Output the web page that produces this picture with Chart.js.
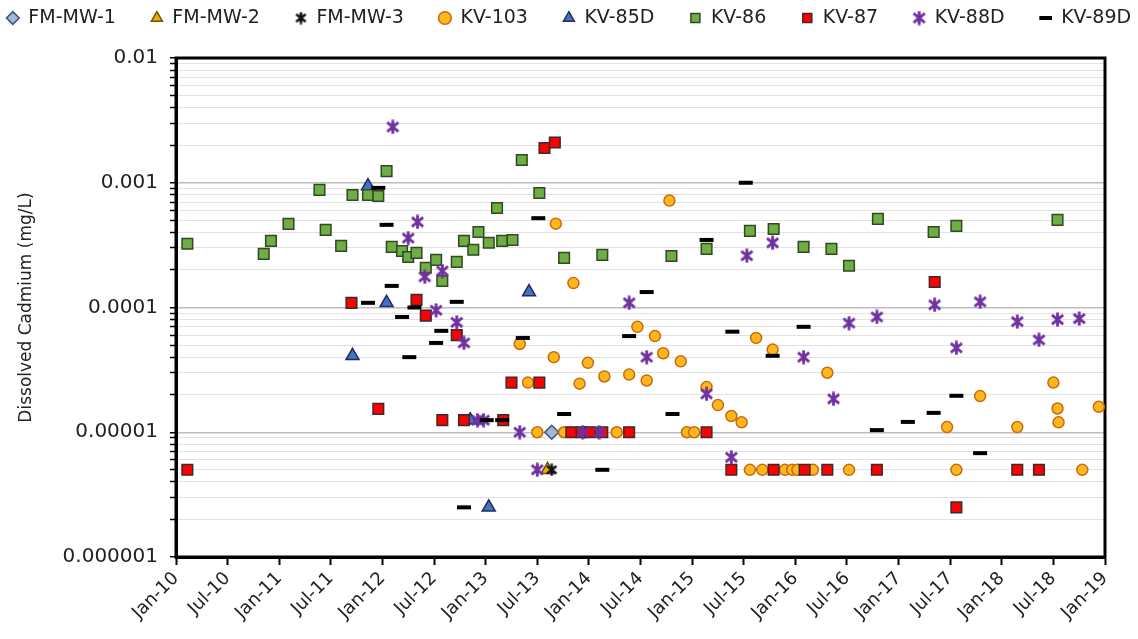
<!DOCTYPE html>
<html>
<head>
<meta charset="utf-8">
<script src="https://cdn.jsdelivr.net/npm/chart.js@4.4.0/dist/chart.umd.min.js"></script>
<style>
  html, body { margin: 0; padding: 0; background: #fff; }
</style>
</head>
<body>
<canvas id="chart" width="1138" height="639"></canvas>
<script>
// sample dates as decimal years, dissolved cadmium in mg/L
const fmMw1 = [[2013.64, 0.00001]];
const fmMw2 = [[2013.60, 0.000005]];
const fmMw3 = [[2013.64, 0.000005]];

const kv103 = [
  [2013.33, 0.000051], [2013.41, 0.000025], [2013.50, 0.00001], [2013.66, 0.00004],
  [2013.68, 0.00047], [2013.76, 0.00001], [2013.85, 0.000157], [2013.91, 0.0000245],
  [2013.99, 0.000036], [2014.15, 0.000028], [2014.27, 0.00001], [2014.39, 0.000029],
  [2014.47, 0.00007], [2014.56, 0.000026], [2014.64, 0.000059], [2014.72, 0.000043],
  [2014.78, 0.00072], [2014.89, 0.000037], [2014.95, 0.00001], [2015.02, 0.00001],
  [2015.14, 0.000023], [2015.25, 0.0000165], [2015.38, 0.0000135], [2015.48, 0.000012],
  [2015.56, 0.000005], [2015.62, 0.000057], [2015.68, 0.000005], [2015.78, 0.000046],
  [2015.90, 0.000005], [2015.97, 0.000005], [2016.02, 0.000005], [2016.17, 0.000005],
  [2016.31, 0.00003], [2016.52, 0.000005], [2017.47, 0.000011], [2017.56, 0.000005],
  [2017.79, 0.0000195], [2018.15, 0.000011], [2018.50, 0.000025], [2018.54, 0.0000155],
  [2018.55, 0.000012], [2018.78, 0.000005], [2018.94, 0.000016]
];

const kv85d = [
  [2011.71, 0.000041], [2011.86, 0.00094], [2012.04, 0.000109],
  [2012.85, 0.0000125], [2013.03, 0.0000025], [2013.42, 0.000133]
];

const kv86 = [
  [2010.11, 0.000324], [2010.85, 0.000269], [2010.92, 0.000342], [2011.09, 0.000468],
  [2011.39, 0.000876], [2011.45, 0.000419], [2011.60, 0.000312], [2011.71, 0.000798],
  [2011.86, 0.000798], [2011.96, 0.000784], [2012.04, 0.00124], [2012.09, 0.000306],
  [2012.19, 0.000284], [2012.25, 0.000254], [2012.33, 0.000274], [2012.42, 0.000208],
  [2012.52, 0.000241], [2012.58, 0.000163], [2012.72, 0.000232], [2012.79, 0.000342],
  [2012.88, 0.00029], [2012.93, 0.000403], [2013.03, 0.00033], [2013.11, 0.000628],
  [2013.16, 0.000342], [2013.26, 0.000348], [2013.35, 0.00152], [2013.52, 0.000828],
  [2013.76, 0.00025], [2014.13, 0.000264], [2014.80, 0.000259], [2015.14, 0.000295],
  [2015.56, 0.000411], [2015.79, 0.000426], [2016.08, 0.000306], [2016.35, 0.000295],
  [2016.52, 0.000216], [2016.80, 0.000513], [2017.34, 0.000403], [2017.56, 0.000451],
  [2018.54, 0.000504]
];

const kv87 = [
  [2010.11, 0.000005], [2011.70, 0.000109], [2011.96, 0.0000154], [2012.33, 0.000115],
  [2012.42, 0.000086], [2012.72, 0.00006], [2012.58, 0.0000125], [2012.79, 0.0000125],
  [2013.17, 0.0000125], [2013.25, 0.000025], [2013.52, 0.000025], [2013.57, 0.0019],
  [2013.67, 0.0021], [2013.83, 0.00001], [2013.93, 0.00001], [2014.01, 0.00001],
  [2014.13, 0.00001], [2014.39, 0.00001], [2015.14, 0.00001], [2015.38, 0.000005],
  [2015.79, 0.000005], [2016.09, 0.000005], [2016.31, 0.000005], [2016.79, 0.000005],
  [2017.35, 0.00016], [2017.56, 0.0000025], [2018.15, 0.000005], [2018.36, 0.000005]
];

const kv88d = [
  [2012.10, 0.0028], [2012.25, 0.00036], [2012.34, 0.000485], [2012.41, 0.000176],
  [2012.58, 0.000196], [2012.52, 0.000095], [2012.72, 0.000076], [2012.79, 0.000052],
  [2012.92, 0.0000125], [2012.98, 0.0000125], [2013.33, 0.00001], [2013.50, 0.000005],
  [2013.94, 0.00001], [2014.10, 0.00001], [2014.39, 0.000109], [2014.56, 0.00004],
  [2015.14, 0.0000203], [2015.38, 0.0000063], [2015.53, 0.00026], [2015.78, 0.00033],
  [2016.08, 0.00004], [2016.37, 0.0000185], [2016.52, 0.000075], [2016.79, 0.000084],
  [2017.35, 0.000105], [2017.56, 0.0000475], [2017.79, 0.000111], [2018.15, 0.000077],
  [2018.36, 0.000055], [2018.54, 0.00008], [2018.75, 0.0000815]
];

const kv89d = [
  [2011.86, 0.000109], [2011.96, 0.00091], [2012.04, 0.00046], [2012.09, 0.000149],
  [2012.19, 0.000084], [2012.26, 0.00004], [2012.31, 0.0001], [2012.52, 0.000052],
  [2012.57, 0.000065], [2012.72, 0.000111], [2012.79, 0.0000025], [2013.01, 0.0000125],
  [2013.16, 0.0000125], [2013.36, 0.000057], [2013.51, 0.00052], [2013.76, 0.000014],
  [2014.13, 0.000005], [2014.39, 0.000059], [2014.56, 0.000133], [2014.81, 0.000014],
  [2015.14, 0.000348], [2015.39, 0.000064], [2015.52, 0.001], [2015.78, 0.000041],
  [2016.08, 0.00007], [2016.79, 0.0000104], [2017.09, 0.0000121], [2017.34, 0.0000143],
  [2017.56, 0.0000196], [2017.79, 0.0000068]
];

const xTickLabels = [
  'Jan-10', 'Jul-10', 'Jan-11', 'Jul-11', 'Jan-12', 'Jul-12', 'Jan-13', 'Jul-13',
  'Jan-14', 'Jul-14', 'Jan-15', 'Jul-15', 'Jan-16', 'Jul-16', 'Jan-17', 'Jul-17',
  'Jan-18', 'Jul-18', 'Jan-19'
];
const yDecades = [0.000001, 0.00001, 0.0001, 0.001, 0.01];
const yTickLabels = ['0.000001', '0.00001', '0.0001', '0.001', '0.01'];

const FONT = 'DejaVu Sans';
const LEGEND_PAD = 35;

// excel style asterisk marker (x with a vertical bar)
function asterisk(color, size, lw) {
  const c = document.createElement('canvas');
  c.width = size;
  c.height = size;
  const g = c.getContext('2d');
  g.strokeStyle = color;
  g.lineWidth = lw;
  const m = lw / 2 + 0.5;
  g.beginPath();
  g.moveTo(m, m + 1); g.lineTo(size - m, size - m - 1);
  g.moveTo(size - m, m + 1); g.lineTo(m, size - m - 1);
  g.moveTo(size / 2, 0.5); g.lineTo(size / 2, size - 0.5);
  g.stroke();
  return c;
}

const pts = arr => arr.map(([x, y]) => ({ x, y }));

const datasets = [
  { label: 'FM-MW-1', data: pts(fmMw1), pointStyle: 'rectRot', pointRadius: 7,
    backgroundColor: '#9DB8DC', borderColor: '#44546A', borderWidth: 1.5 },
  { label: 'FM-MW-2', data: pts(fmMw2), pointStyle: 'triangle', pointRadius: 7.5,
    backgroundColor: '#E8B400', borderColor: '#6B5300', borderWidth: 1.5 },
  { label: 'FM-MW-3', data: pts(fmMw3), pointStyle: asterisk('#111', 13, 2.5), pointRadius: 7,
    backgroundColor: '#111', borderColor: '#111', borderWidth: 0 },
  { label: 'KV-103', data: pts(kv103), pointStyle: 'circle', pointRadius: 5.5,
    backgroundColor: '#FFB71B', borderColor: '#C86A10', borderWidth: 1.5 },
  { label: 'KV-85D', data: pts(kv85d), pointStyle: 'triangle', pointRadius: 7.5,
    backgroundColor: '#4472C4', borderColor: '#1F2F5C', borderWidth: 1.5 },
  { label: 'KV-86', data: pts(kv86), pointStyle: 'rect', pointRadius: 7.5,
    backgroundColor: '#70AD47', borderColor: '#2E4A1E', borderWidth: 1.5 },
  { label: 'KV-87', data: pts(kv87), pointStyle: 'rect', pointRadius: 7.5,
    backgroundColor: '#FF0000', borderColor: '#3A2A2A', borderWidth: 1.5 },
  { label: 'KV-88D', data: pts(kv88d), pointStyle: asterisk('#7030A0', 15, 2.8), pointRadius: 7,
    backgroundColor: '#7030A0', borderColor: '#7030A0', borderWidth: 0 },
  { label: 'KV-89D', data: pts(kv89d), pointStyle: 'line', pointRadius: 7,
    backgroundColor: '#000', borderColor: '#000', borderWidth: 4 }
];
// later series are painted on top, like the spreadsheet
datasets.forEach((d, i) => { d.order = -i; d.pointHoverRadius = d.pointRadius; });

const frame = {
  id: 'frame',
  beforeInit(chart) {
    // keep the legend on one wide row and reserve 58px above the plot
    const fit = chart.legend.fit;
    chart.legend.fit = function () {
      const mw = this.maxWidth;
      this.maxWidth = mw + 400;
      fit.call(this);
      this.maxWidth = mw;
      this.width = mw;
      this.height = 58;
    };
  },
  afterLayout(chart) {
    const lg = chart.legend;
    lg.left -= 200;
    lg.right += 200;
    lg.top = 18 - LEGEND_PAD - 9.5;
  },
  beforeDatasetsDraw(chart) {
    const { ctx, chartArea: a } = chart;
    ctx.save();
    ctx.strokeStyle = '#000';
    ctx.lineWidth = 3;
    ctx.strokeRect(a.left, a.top, a.right - a.left, a.bottom - a.top);
    ctx.restore();
  }
};

new Chart(document.getElementById('chart'), {
  type: 'scatter',
  data: { datasets },
  plugins: [frame],
  options: {
    responsive: false,
    animation: false,
    layout: { padding: 0 },
    plugins: {
      tooltip: { enabled: false },
      legend: {
        position: 'top',
        labels: {
          usePointStyle: true,
          boxWidth: 12,
          boxHeight: 9,
          padding: LEGEND_PAD,
          color: '#222',
          font: { family: FONT, size: 19 },
          sort: (a, b) => a.datasetIndex - b.datasetIndex
        }
      }
    },
    scales: {
      x: {
        type: 'linear',
        min: 2010,
        max: 2019,
        afterFit(scale) { scale.height = 82; },
        ticks: {
          stepSize: 0.5,
          autoSkip: false,
          minRotation: 45,
          maxRotation: 45,
          padding: 3,
          color: '#222',
          font: { family: FONT, size: 18 },
          callback: (v, i) => xTickLabels[i]
        },
        grid: { drawOnChartArea: false, tickLength: 8, tickColor: '#000', tickWidth: 2 },
        border: { color: '#000', width: 3 }
      },
      y: {
        type: 'logarithmic',
        min: 0.000001,
        max: 0.01,
        afterFit(scale) { scale.width = 176; },
        afterBuildTicks(scale) {
          const ticks = [];
          yDecades.forEach((d, i) => {
            ticks.push({ value: d, decade: true });
            if (i < yDecades.length - 1) {
              for (let k = 2; k <= 9; k++) ticks.push({ value: d * k, decade: false });
            }
          });
          scale.ticks = ticks;
        },
        ticks: {
          autoSkip: false,
          padding: 12,
          color: '#222',
          font: { family: FONT, size: 20 },
          callback: (v) => {
            const i = yDecades.findIndex(d => Math.abs(d - v) / d < 1e-6);
            return i >= 0 ? yTickLabels[i] : '';
          }
        },
        grid: {
          color: c => (c.tick && c.tick.decade ? '#BDBDBD' : '#E2E2E2'),
          lineWidth: c => (c.tick && c.tick.decade ? 1.5 : 1),
          tickColor: '#000',
          tickLength: 6,
          tickWidth: 1.5
        },
        border: { color: '#000', width: 3 },
        title: {
          display: true,
          text: 'Dissolved Cadmium (mg/L)',
          color: '#222',
          font: { family: FONT, size: 17 },
          padding: { top: 16, bottom: 0 }
        }
      },
      // empty right-hand gutter so the legend still spans the full width
      gutter: {
        type: 'linear',
        position: 'right',
        afterFit(scale) { scale.width = 33; },
        ticks: { display: false },
        grid: { display: false },
        border: { display: false }
      }
    }
  }
});
</script>
